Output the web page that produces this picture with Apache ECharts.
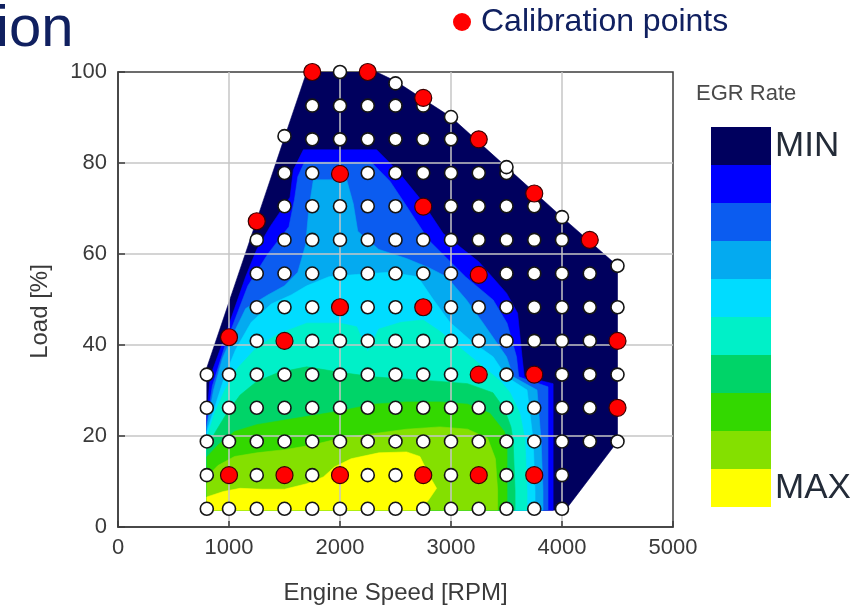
<!DOCTYPE html>
<html>
<head>
<meta charset="utf-8">
<title>EGR Rate map</title>
<script src="https://cdn.jsdelivr.net/npm/echarts@6/dist/echarts.min.js"></script>
<style>
  html, body { margin: 0; padding: 0; background: #ffffff; }
  #chart { width: 868px; height: 611px; }
</style>
</head>
<body>
<div id="chart"></div>
<script>
// ---- Measurement grid: [load %, engine speeds (RPM) in that row] ----
const gridRows = [
  [4.0,  [800, 1000, 1250, 1500, 1750, 2000, 2250, 2500, 2750, 3000, 3250, 3500, 3750, 4000]],
  [11.4, [800, 1000, 1250, 1500, 1750, 2000, 2250, 2500, 2750, 3000, 3250, 3500, 3750, 4000]],
  [18.8, [800, 1000, 1250, 1500, 1750, 2000, 2250, 2500, 2750, 3000, 3250, 3500, 3750, 4000, 4250, 4500]],
  [26.2, [800, 1000, 1250, 1500, 1750, 2000, 2250, 2500, 2750, 3000, 3250, 3500, 3750, 4000, 4250, 4500]],
  [33.5, [800, 1000, 1250, 1500, 1750, 2000, 2250, 2500, 2750, 3000, 3250, 3500, 3750, 4000, 4250, 4500]],
  [40.9, [1250, 1500, 1750, 2000, 2250, 2500, 2750, 3000, 3250, 3500, 3750, 4000, 4250, 4500]],
  [48.3, [1250, 1500, 1750, 2000, 2250, 2500, 2750, 3000, 3250, 3500, 3750, 4000, 4250, 4500]],
  [55.7, [1250, 1500, 1750, 2000, 2250, 2500, 2750, 3000, 3250, 3500, 3750, 4000, 4250]],
  [63.1, [1250, 1500, 1750, 2000, 2250, 2500, 2750, 3000, 3250, 3500, 3750, 4000]],
  [70.5, [1500, 1750, 2000, 2250, 2500, 2750, 3000, 3250, 3500, 3750]],
  [77.8, [1500, 1750, 2000, 2250, 2500, 2750, 3000, 3250, 3500]],
  [85.2, [1750, 2000, 2250, 2500, 2750, 3000]],
  [92.6, [1750, 2000, 2250, 2500, 2750]],
  [100,  [2000]]
];

// Grid points on the boundary of the operating range
const edgePoints = [[1500, 85.9], [2500, 97.5], [3000, 90.1], [3500, 79.1], [4000, 68.1], [4500, 57.4]];

// Calibration points [RPM, load %]
const calibrationPoints = [
  [1750, 100], [2250, 100], [2750, 94.3], [3250, 85.2], [3750, 73.3], [4250, 63.1],
  [1250, 67.2], [2000, 77.6], [2750, 70.4], [3250, 55.4], [4500, 40.9],
  [2000, 48.3], [2750, 48.3], [1000, 41.7], [1500, 40.9],
  [3250, 33.5], [3750, 33.5], [4500, 26.2],
  [1000, 11.4], [1500, 11.4], [2000, 11.4], [2750, 11.4], [3250, 11.4], [3750, 11.4]
];

// ---- EGR rate bands (level 0 = MIN ... level 9 = MAX) ----
const egrLevelLabels = ['MIN', ' ', ' ', ' ', ' ', ' ', ' ', ' ', ' ', 'MAX'];
const egrLevelColors = ['#00005e', '#0000ff', '#0b5cf0', '#04aaf0', '#00dcff',
                        '#00f0c8', '#00d468', '#33d800', '#84e000', '#ffff00'];

// Region where the rate is at least the given level, as [RPM, load %] outlines
const bandMin = [[800, 3.7], [800, 35], [1250, 67.5], [1500, 85.6], [1700, 100], [2330, 100], [2500, 98],
  [3000, 90.1], [3500, 79.1], [4000, 68.1], [4500, 57.4], [4500, 18.8], [4030, 3.7]];
const band1 = [[800, 24.2], [830, 33], [950, 41], [1050, 48], [1150, 55], [1250, 61], [1370, 66],
  [1550, 72.5], [1580, 78.5], [1670, 82.9], [2330, 82.9], [2510, 78.5], [2720, 72.2], [2930, 64.5],
  [3250, 58.3], [3500, 51.4], [3600, 47], [3640, 37.4], [3660, 33], [3920, 31.5], [3920, 3.7], [800, 3.7]];
const band2 = [[800, 23], [850, 31], [960, 39.5], [1060, 46], [1170, 53], [1350, 60], [1540, 66],
  [1590, 72], [1620, 77], [1680, 80.2], [2280, 80.2], [2450, 76], [2600, 70.5], [2800, 63],
  [3130, 55], [3380, 49.9], [3505, 44.8], [3590, 37.4], [3610, 33], [3874, 30.8], [3874, 3.7], [800, 3.7]];
const band3 = [[800, 22], [860, 30], [940, 37], [1020, 41.5], [1150, 48], [1350, 51], [1500, 53],
  [1620, 56], [1690, 62], [1720, 70], [1760, 76.3], [2060, 76.3], [2120, 71], [2160, 65],
  [2350, 61], [2600, 59], [2800, 57], [2960, 55], [3140, 49.9], [3290, 44.8], [3500, 37.4],
  [3560, 33], [3775, 30.1], [3811, 19.1], [3829, 8.1], [3829, 3.7], [800, 3.7]];
const band4 = [[800, 21], [880, 27], [960, 33], [1060, 39], [1200, 45], [1380, 49], [1560, 51],
  [1700, 53], [1900, 55], [2150, 55.5], [2450, 56], [2700, 55], [2840, 50], [2990, 45],
  [3200, 40.5], [3380, 37.4], [3500, 33], [3685, 30.1], [3740, 19.1], [3757, 8.1], [3757, 3.7], [800, 3.7]];
const band5 = [[800, 19.5], [870, 25], [960, 30], [1080, 35], [1250, 39.5], [1450, 42.5], [1700, 44.8],
  [2000, 44.8], [2150, 44], [2250, 38.5], [2350, 43.5], [2550, 45], [2750, 45.5], [2900, 43],
  [3100, 39], [3300, 35], [3450, 32], [3532, 29.5], [3620, 25], [3667, 19.1], [3685, 8.1], [3685, 3.7], [800, 3.7]];
const band6 = [[800, 17.6], [880, 21], [980, 25], [1100, 29], [1250, 32], [1450, 34], [1700, 35.2],
  [2000, 34], [2300, 33], [2600, 32.5], [2900, 32], [3150, 31.5], [3378, 29.5], [3480, 26],
  [3540, 22], [3559, 19.1], [3577, 8.1], [3577, 3.7], [800, 3.7]];
const band7 = [[800, 15.4], [900, 18], [1050, 21], [1250, 22.5], [1500, 23.5], [1750, 24.5], [2000, 25.5],
  [2300, 27], [2600, 27.5], [2900, 27.5], [3150, 27], [3350, 25], [3480, 21], [3505, 19.1],
  [3505, 8.1], [3505, 3.7], [800, 3.7]];
const band8 = [[800, 11], [900, 13.5], [1050, 15.5], [1250, 16.3], [1500, 17], [1750, 18], [2000, 19.5],
  [2300, 20.5], [2600, 21.5], [2900, 22], [3150, 21.5], [3330, 19.5], [3400, 15], [3420, 8.1],
  [3420, 3.7], [800, 3.7]];
const bandMax = [[800, 6.6], [950, 7.8], [1100, 8.5], [1300, 8.3], [1500, 8.3], [1700, 9.5], [1850, 11],
  [1950, 13.2], [2100, 15], [2350, 16.3], [2600, 16.5], [2720, 15.5], [2800, 11.5], [2870, 8.5],
  [2800, 6], [2720, 3.7], [800, 3.7]];

const egrBands = [bandMin, band1, band2, band3, band4, band5, band6, band7, band8, bandMax];

// Axis ticks
const speedTicks = { min: 0, max: 5000, step: 1000 };
const loadTicks = { min: 0, max: 100, step: 20 };

// ---- Chart ----
const FONT = '"Liberation Sans", Arial, Helvetica, sans-serif';
const AXIS_TEXT = '#3a3a3a';

const whitePoints = [];
gridRows.forEach(([load, speeds]) => speeds.forEach(s => whitePoints.push([s, load])));
edgePoints.forEach(p => whitePoints.push(p));

function renderBand(params, api) {
  const outline = egrBands[params.dataIndex];
  const color = api.visual('color');
  return {
    type: 'polygon',
    shape: { points: outline.map(p => api.coord(p)) },
    style: { fill: color, stroke: color, lineWidth: 0.6 }
  };
}

const chart = echarts.init(document.getElementById('chart'), null, { renderer: 'canvas' });

chart.setOption({
  animation: false,
  backgroundColor: '#ffffff',
  textStyle: { fontFamily: FONT },
  title: [
    {
      text: 'ion', left: -4, top: 1, padding: 0,
      textStyle: { fontSize: 58, fontWeight: 'normal', color: '#102060', fontFamily: FONT }
    },
    {
      text: 'EGR Rate', left: 696, top: 83, padding: 0,
      textStyle: { fontSize: 22, fontWeight: 'normal', color: '#4a4a4a', fontFamily: FONT }
    }
  ],
  legend: {
    data: ['Calibration points'],
    left: 453, top: 6, padding: 0,
    icon: 'circle', itemWidth: 18, itemHeight: 18,
    itemStyle: { borderWidth: 0, color: '#ff0000' },
    selectedMode: false,
    textStyle: { fontSize: 32, color: '#102060', fontFamily: FONT, padding: [0, 0, 0, 5] }
  },
  visualMap: {
    type: 'piecewise',
    seriesIndex: 0,
    dimension: 0,
    orient: 'vertical',
    inverse: true,
    align: 'left',
    left: 711, top: 127, padding: 0,
    itemWidth: 60, itemHeight: 38, itemGap: 0, itemSymbol: 'rect',
    textGap: 4, showLabel: true,
    selectedMode: false, hoverLink: false,
    textStyle: { fontSize: 35, color: '#232b38', fontFamily: FONT },
    pieces: egrLevelLabels.map((label, i) => ({ value: i, label: label, color: egrLevelColors[i] }))
  },
  grid: {
    left: 118, top: 72, width: 555, height: 455,
    containLabel: false, outerBoundsMode: 'none',
    show: true, backgroundColor: '#ffffff', borderColor: '#3c3c3c', borderWidth: 1.5
  },
  xAxis: {
    type: 'value', min: speedTicks.min, max: speedTicks.max, interval: speedTicks.step, z: 3,
    name: 'Engine Speed [RPM]', nameLocation: 'middle', nameGap: 54,
    nameTextStyle: { fontSize: 24, color: AXIS_TEXT, fontFamily: FONT },
    axisLine: { show: true, onZero: false, lineStyle: { color: '#3c3c3c', width: 1.5 } },
    axisTick: { show: true, inside: true, length: 6, lineStyle: { color: '#3c3c3c', width: 1.5 } },
    axisLabel: { fontSize: 22, color: AXIS_TEXT, margin: 10, fontFamily: FONT, formatter: v => String(v) },
    splitLine: { show: true, showMinLine: false, showMaxLine: false, lineStyle: { color: '#c6c6c6', width: 1.5 } }
  },
  yAxis: {
    type: 'value', min: loadTicks.min, max: loadTicks.max, interval: loadTicks.step, z: 3,
    name: 'Load [%]', nameLocation: 'middle', nameGap: 66,
    nameTextStyle: { fontSize: 24, color: AXIS_TEXT, fontFamily: FONT, padding: [0, 24, 0, 0] },
    axisLine: { show: true, onZero: false, lineStyle: { color: '#3c3c3c', width: 1.5 } },
    axisTick: { show: true, inside: true, length: 7, lineStyle: { color: '#3c3c3c', width: 1.5 } },
    axisLabel: { fontSize: 22, color: AXIS_TEXT, margin: 11, fontFamily: FONT, formatter: v => String(v) },
    splitLine: { show: true, showMinLine: false, showMaxLine: false, lineStyle: { color: '#c6c6c6', width: 1.5 } }
  },
  series: [
    {
      name: 'EGR Rate',
      type: 'custom',
      coordinateSystem: 'cartesian2d',
      renderItem: renderBand,
      data: egrBands.map((_, i) => [i]),
      encode: { x: -1, y: -1 },
      clip: true,
      silent: true,
      z: 2
    },
    {
      name: 'Operating points',
      type: 'scatter',
      data: whitePoints,
      symbol: 'circle',
      symbolSize: 13,
      itemStyle: { color: '#ffffff', borderColor: '#151515', borderWidth: 1.6, opacity: 1 },
      silent: true,
      z: 5
    },
    {
      name: 'Calibration points',
      type: 'scatter',
      data: calibrationPoints,
      symbol: 'circle',
      symbolSize: 17,
      itemStyle: { color: '#ff0000', borderColor: '#3a0000', borderWidth: 1.2, opacity: 1 },
      silent: true,
      z: 6
    }
  ]
});
</script>
</body>
</html>
